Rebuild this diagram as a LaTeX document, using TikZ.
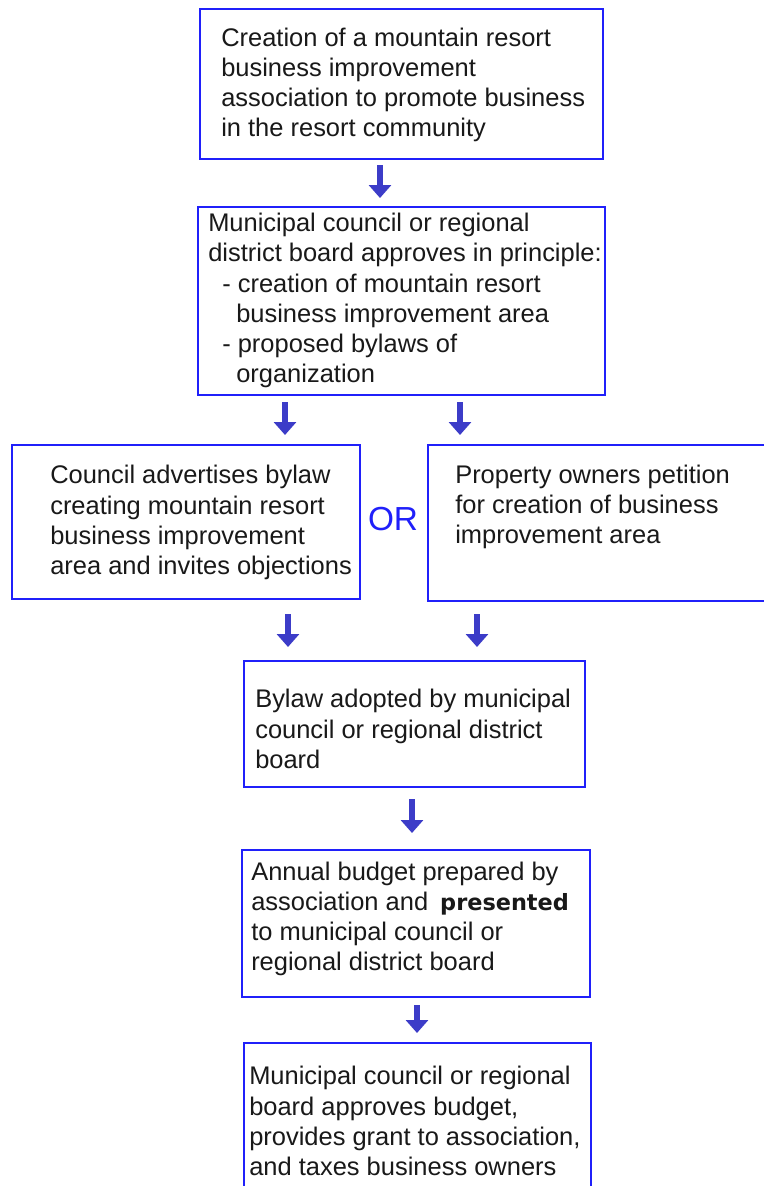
\documentclass[tikz,border=0pt]{standalone}
\usepackage{fontspec}
\setmainfont{Liberation Sans}
\newfontfamily\boldverd{DejaVu Sans}
\usetikzlibrary{arrows.meta}
\newdimen\pxu \pxu=0.75pt
\definecolor{boxblue}{RGB}{32,32,250}
\definecolor{arrblue}{RGB}{60,60,200}
\definecolor{txt}{RGB}{25,25,25}
\tikzset{
  box/.style={draw=boxblue, line width=1.5pt, rectangle, anchor=north west, inner sep=0pt},
  txtnode/.style={anchor=west, align=left, inner sep=0pt, text=txt,
    font=\fontsize{19.1pt}{22.6pt}\selectfont},
  arr/.style={draw=arrblue, line width=4.5pt, -{Triangle[width=16.5pt,length=9.75pt]}},
}
\begin{document}
\begin{tikzpicture}[x=0.75pt,y=-0.75pt]
\useasboundingbox (0,0) rectangle (764,1186);
\fill[white] (0,0) rectangle (764,1186);
% boxes
\node[box, minimum width=302.25pt, minimum height=112.5pt] (b1) at (199,8) {};
\node[box, minimum width=305.25pt, minimum height=141pt] (b2) at (197,206) {};
\node[box, minimum width=261pt, minimum height=115.5pt] (b3l) at (11,444) {};
\node[box, minimum width=262.5pt, minimum height=117pt] (b3r) at (427,444) {};
\node[box, minimum width=255.75pt, minimum height=94.5pt] (b4) at (243,660) {};
\node[box, minimum width=261pt, minimum height=110.25pt] (b5) at (241,849) {};
\node[box, minimum width=260.25pt, minimum height=117pt] (b6) at (243,1042) {};
% texts
\node[txtnode] (t1) at ([xshift=22\pxu, yshift=-1\pxu]b1.west)
 {Creation of a mountain resort\\business improvement\\association to promote business\\in the resort community};
\node[txtnode] (t2) at ([xshift=11\pxu, yshift=0.5\pxu]b2.west)
 {Municipal council or regional\\district board approves in principle:\\
  \hspace*{14\pxu}- creation of mountain resort\\\hspace*{28\pxu}business improvement area\\
  \hspace*{14\pxu}- proposed bylaws of\\\hspace*{28\pxu}organization};
\node[txtnode] (t3l) at ([xshift=39\pxu, yshift=-0.5\pxu]b3l.west)
 {Council advertises bylaw\\creating mountain resort\\business improvement\\area and invites objections};
\node[txtnode] (t3r) at ([xshift=28\pxu, yshift=16\pxu]b3r.west)
 {Property owners petition\\for creation of business\\improvement area};
\node[text=boxblue, font=\fontsize{25pt}{30pt}\selectfont, inner sep=0pt] (or) at (393,519) {OR};
\node[txtnode] (t4) at ([xshift=12\pxu, yshift=-5\pxu]b4.west)
 {Bylaw adopted by municipal\\council or regional district\\board};
\node[txtnode] (t5) at ([xshift=10\pxu, yshift=4.5\pxu]b5.west)
 {Annual budget prepared by\\association and\hspace*{12\pxu}{\boldverd\bfseries\fontsize{16.8pt}{22.6pt}\selectfont presented}\\to municipal council or\\regional district board};
\node[txtnode] (t6) at ([xshift=6\pxu]b6.west)
 {Municipal council or regional\\board approves budget,\\provides grant to association,\\and taxes business owners};
% arrows
\draw[arr, shorten <=3.75pt, shorten >=6pt] (b1.south -| 380,0) -- (b2.north -| 380,0);
\draw[arr, shorten <=4.5pt, shorten >=6.75pt] (b2.south -| 285,0) -- (b3l.north -| 285,0);
\draw[arr, shorten <=4.5pt, shorten >=6.75pt] (b2.south -| 460,0) -- (b3r.north -| 460,0);
\draw[arr, shorten <=10.5pt, shorten >=9.75pt] (b3l.south -| 288,0) -- (b4.north -| 288,0);
\draw[arr, shorten <=9pt, shorten >=9.75pt] (b3r.south -| 477,0) -- (b4.north -| 477,0);
\draw[arr, shorten <=8.25pt, shorten >=12pt] (b4.south -| 412,0) -- (b5.north -| 412,0);
\draw[arr, shorten <=5.25pt, shorten >=6.75pt] (b5.south -| 417,0) -- (b6.north -| 417,0);
\end{tikzpicture}
\end{document}
